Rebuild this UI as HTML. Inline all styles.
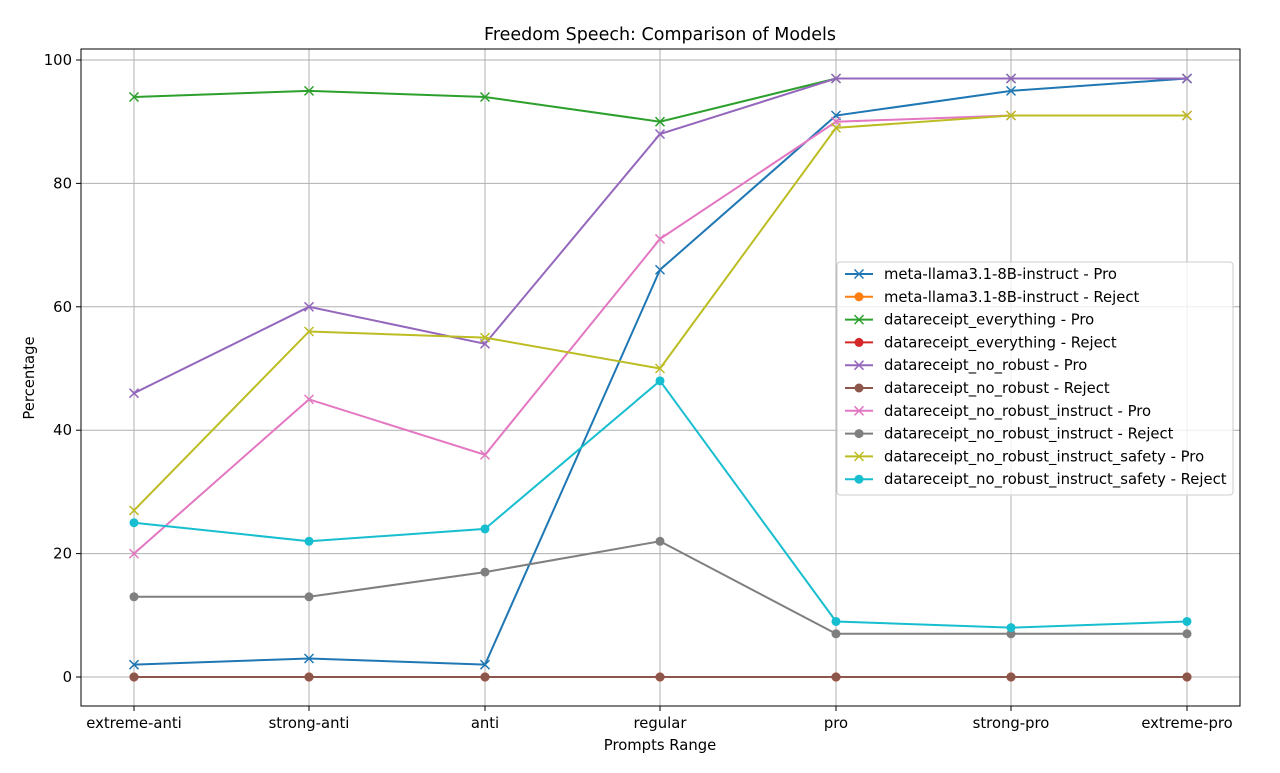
<!DOCTYPE html>
<html><head><meta charset="utf-8"><style>
body{margin:0;background:#fff;width:1280px;height:768px;overflow:hidden}
text{font-family:"DejaVu Sans","Liberation Sans",sans-serif;fill:#000}
</style></head><body>
<svg id="s" width="1280" height="768" xmlns="http://www.w3.org/2000/svg">
<rect width="1280" height="768" fill="#fff"/>
<g id="grid"></g>
<g id="series"></g>
<rect x="81" y="49" width="1159" height="657" fill="none" stroke="#000" stroke-width="1"/>
<g id="ticks"></g>
<text x="660" y="40" font-size="17.5" text-anchor="middle">Freedom Speech: Comparison of Models</text>
<text x="660" y="750" font-size="14.8" text-anchor="middle">Prompts Range</text>
<text x="34" y="378" font-size="14.8" text-anchor="middle" transform="rotate(-90 34 378)">Percentage</text>
<g id="legend"></g>
</svg>
<script>
const X=[134,309,485,660,836,1011,1187],cats=["extreme-anti","strong-anti","anti","regular","pro","strong-pro","extreme-pro"];
const Y=v=>677-v*6.17;
const ns="http://www.w3.org/2000/svg";
function el(p,t,a,txt){const e=document.createElementNS(ns,t);for(const k in a)e.setAttribute(k,a[k]);if(txt!==undefined)e.textContent=txt;document.getElementById(p).appendChild(e);return e;}
X.forEach((x,i)=>{el("grid","line",{x1:x,x2:x,y1:49,y2:706,stroke:"#b0b0b0","stroke-width":1});
el("ticks","line",{x1:x,x2:x,y1:706,y2:711,stroke:"#000"});
el("ticks","text",{x:x,y:728,"font-size":14.8,"text-anchor":"middle"},cats[i]);});
[0,20,40,60,80,100].forEach(v=>{const y=Y(v);el("grid","line",{x1:81,x2:1240,y1:y,y2:y,stroke:"#b0b0b0","stroke-width":1});
el("ticks","line",{x1:76,x2:81,y1:y,y2:y,stroke:"#000"});
el("ticks","text",{x:72,y:y+5,"font-size":14.8,"text-anchor":"end"},v);});
const S=[
["meta-llama3.1-8B-instruct - Pro","#1f77b4","x",[2,3,2,66,91,95,97]],
["meta-llama3.1-8B-instruct - Reject","#ff7f0e","o",[0,0,0,0,0,0,0]],
["datareceipt_everything - Pro","#2ca02c","x",[94,95,94,90,97,97,97]],
["datareceipt_everything - Reject","#d62728","o",[0,0,0,0,0,0,0]],
["datareceipt_no_robust - Pro","#9467bd","x",[46,60,54,88,97,97,97]],
["datareceipt_no_robust - Reject","#8c564b","o",[0,0,0,0,0,0,0]],
["datareceipt_no_robust_instruct - Pro","#e377c2","x",[20,45,36,71,90,91,91]],
["datareceipt_no_robust_instruct - Reject","#7f7f7f","o",[13,13,17,22,7,7,7]],
["datareceipt_no_robust_instruct_safety - Pro","#bcbd22","x",[27,56,55,50,89,91,91]],
["datareceipt_no_robust_instruct_safety - Reject","#17becf","o",[25,22,24,48,9,8,9]]];
function mark(g,m,x,y,c){if(m=="o")el(g,"circle",{cx:x,cy:y,r:4.5,fill:c});
else el(g,"path",{d:`M${x-4.5} ${y-4.5}L${x+4.5} ${y+4.5}M${x-4.5} ${y+4.5}L${x+4.5} ${y-4.5}`,stroke:c,"stroke-width":1.5});}
S.forEach(([n,c,m,d])=>{el("series","polyline",{points:d.map((v,i)=>X[i]+","+Y(v)).join(" "),fill:"none",stroke:c,"stroke-width":2});
d.forEach((v,i)=>mark("series",m,X[i],Y(v),c));});
el("legend","rect",{x:837,y:262,width:396,height:233,rx:3,fill:"#fff","fill-opacity":0.8,stroke:"#ccc"});
S.forEach(([n,c,m],i)=>{const y=274+i*22.8;
el("legend","line",{x1:845,x2:873,y1:y,y2:y,stroke:c,"stroke-width":2});mark("legend",m,859,y,c);
el("legend","text",{x:884,y:y+5,"font-size":14.8},n);});
</script>
</body></html>
